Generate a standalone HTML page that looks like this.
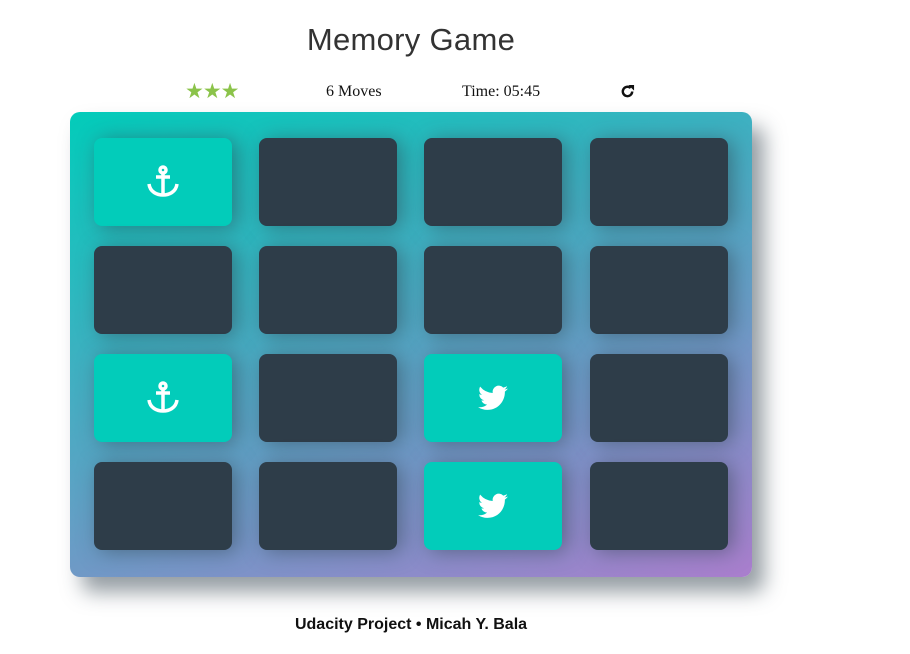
<!DOCTYPE html>
<html><head><style>
body{margin:0;width:910px;height:654px;background:#fff;position:relative;font-family:"Liberation Serif",serif;overflow:hidden}
h1{position:absolute;left:0;width:822px;top:22px;margin:0;text-align:center;font:300 31px "Liberation Sans",sans-serif;color:#333;letter-spacing:0.3px}
.t{position:absolute;top:83px;font-size:16px;color:#111}
.deck{position:absolute;left:70px;top:112px;width:682px;height:465px;border-radius:10px;background:linear-gradient(160deg,#02ccba 0%,#aa7ecd 100%);box-shadow:12px 15px 20px rgba(46,61,73,.5)}
.c{position:absolute;width:138px;height:88px;border-radius:8px;background:#2e3d49;box-shadow:5px 2px 20px rgba(46,61,73,.5);display:flex;align-items:center;justify-content:center}
.o{background:#02ccba}
.f{position:absolute;top:616px;left:0;width:822px;text-align:center;font:bold 16px "Liberation Sans",sans-serif;color:#111}
</style></head><body>
<h1>Memory Game</h1>
<div class="t" style="left:185px;color:#8bc34a;font-size:21px;top:79px;letter-spacing:-1px;font-family:'DejaVu Sans',sans-serif">★★★</div>
<div class="t" style="left:326px">6 Moves</div>
<div class="t" style="left:462px">Time: 05:45</div>
<svg style="position:absolute;left:620px;top:84px" width="15" height="15" viewBox="0 0 16 16"><path d="M13 8a5 5 0 1 1-1.6-3.7" fill="none" stroke="#111" stroke-width="2.6"/><path d="M9 1h6v6z" fill="#111"/></svg>
<div class="deck">
<div class="c o" style="left:24px;top:26px"><svg width="36" height="36" viewBox="0 0 36 36" fill="none" stroke="#fff" stroke-width="3.5"><circle cx="18" cy="6" r="3"/><path d="M18 9v22M11 13h14M4 20c1 8 8 11 14 11s13-3 14-11"/></svg></div>
<div class="c" style="left:189px;top:26px"></div>
<div class="c" style="left:354px;top:26px"></div>
<div class="c" style="left:520px;top:26px"></div>
<div class="c" style="left:24px;top:134px"></div>
<div class="c" style="left:189px;top:134px"></div>
<div class="c" style="left:354px;top:134px"></div>
<div class="c" style="left:520px;top:134px"></div>
<div class="c o" style="left:24px;top:242px"><svg width="36" height="36" viewBox="0 0 36 36" fill="none" stroke="#fff" stroke-width="3.5"><circle cx="18" cy="6" r="3"/><path d="M18 9v22M11 13h14M4 20c1 8 8 11 14 11s13-3 14-11"/></svg></div>
<div class="c" style="left:189px;top:242px"></div>
<div class="c o" style="left:354px;top:242px"><svg width="30" height="26" viewBox="0 0 24 20"><path fill="#fff" d="M24 2.4a10 10 0 0 1-2.8.8A5 5 0 0 0 23.3.5a10 10 0 0 1-3.1 1.2A4.9 4.9 0 0 0 11.8 6 14 14 0 0 1 1.7.9a4.9 4.9 0 0 0 1.5 6.6A4.900 4.9 0 0 1 1 6.9a4.9 4.9 0 0 0 3.9 4.9 5 5 0 0 1-2.2.1 4.9 4.9 0 0 0 4.6 3.4A9.900 9.9 0 0 1 0 17.3 14 14 0 0 0 7.5 19.5c9.1 0 14-7.500 14-14v-.6A10 10 0 0 0 24 2.4z"/></svg></div>
<div class="c" style="left:520px;top:242px"></div>
<div class="c" style="left:24px;top:350px"></div>
<div class="c" style="left:189px;top:350px"></div>
<div class="c o" style="left:354px;top:350px"><svg width="30" height="26" viewBox="0 0 24 20"><path fill="#fff" d="M24 2.4a10 10 0 0 1-2.8.8A5 5 0 0 0 23.3.5a10 10 0 0 1-3.1 1.2A4.9 4.9 0 0 0 11.8 6 14 14 0 0 1 1.7.9a4.9 4.9 0 0 0 1.5 6.6A4.900 4.9 0 0 1 1 6.9a4.9 4.9 0 0 0 3.9 4.9 5 5 0 0 1-2.2.1 4.9 4.9 0 0 0 4.6 3.4A9.900 9.9 0 0 1 0 17.3 14 14 0 0 0 7.5 19.5c9.1 0 14-7.500 14-14v-.6A10 10 0 0 0 24 2.4z"/></svg></div>
<div class="c" style="left:520px;top:350px"></div>
</div>
<div class="f">Udacity Project • Micah Y. Bala</div>
</body></html>
